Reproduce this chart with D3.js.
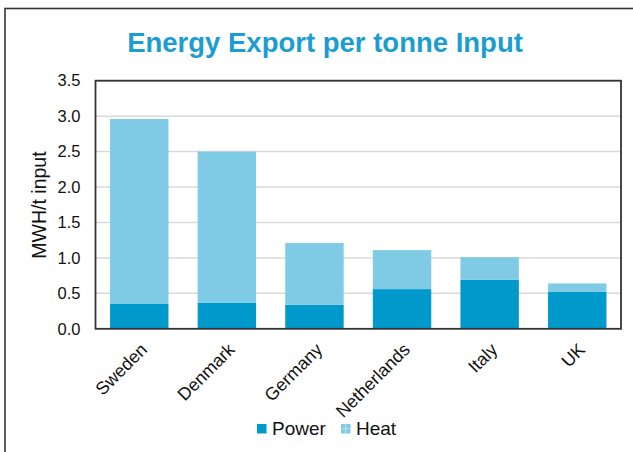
<!DOCTYPE html>
<html>
<head>
<meta charset="utf-8">
<script src="https://cdn.jsdelivr.net/npm/d3@7"></script>
<style>
  html, body { margin: 0; padding: 0; background: #fff; }
  svg { display: block; font-family: "Liberation Sans", Arial, sans-serif; }
</style>
</head>
<body>
<svg id="chart" width="633" height="452"></svg>
<script>
// Energy exported per tonne of waste input, split into power and heat
const countries = ["Sweden", "Denmark", "Germany", "Netherlands", "Italy", "UK"];
const power = [0.35, 0.37, 0.34, 0.56, 0.69, 0.52];
const heat = [2.61, 2.13, 0.87, 0.55, 0.32, 0.12];
const yTicks = [0, 0.5, 1.0, 1.5, 2.0, 2.5, 3.0, 3.5];
const seriesNames = ["Power", "Heat"];

const colors = { Power: "#0099cb", Heat: "#7fcbe5" };
const FONT = "Liberation Sans, Arial, sans-serif";

const svg = d3.select("#chart");

// outer chart frame (runs off the right and bottom edges)
svg.append("rect")
  .attr("x", 5).attr("y", 8.5)
  .attr("width", 700).attr("height", 500)
  .attr("fill", "none").attr("stroke", "#333").attr("stroke-width", 1.6);

const margin = { left: 95.5, right: 621, top: 80.7, bottom: 328.8 };

const x = d3.scaleBand()
  .domain(countries)
  .range([margin.left, margin.right])
  .paddingInner(0.333)
  .paddingOuter(0.166);

const y = d3.scaleLinear()
  .domain([0, 3.5])
  .range([margin.bottom, margin.top]);

// title
svg.append("text")
  .attr("x", 325).attr("y", 52)
  .attr("text-anchor", "middle")
  .attr("font-size", 27.5).attr("font-weight", "bold")
  .attr("fill", "#1b9dd0")
  .text("Energy Export per tonne Input");

// gridlines
svg.append("g")
  .selectAll("line")
  .data(yTicks.filter(d => d > 0))
  .join("line")
  .attr("x1", margin.left).attr("x2", margin.right)
  .attr("y1", d => y(d)).attr("y2", d => y(d))
  .attr("stroke", "#d9d9d9").attr("stroke-width", 1.5);

// stacked bars
const rows = countries.map((c, i) => ({ country: c, Power: power[i], Heat: heat[i] }));
const stacked = d3.stack().keys(seriesNames)(rows);

svg.append("g")
  .selectAll("g")
  .data(stacked)
  .join("g")
  .attr("fill", d => colors[d.key])
  .selectAll("rect")
  .data(d => d)
  .join("rect")
  .attr("x", d => x(d.data.country))
  .attr("width", x.bandwidth())
  .attr("y", d => y(d[1]))
  .attr("height", d => y(d[0]) - y(d[1]));

// plot area border
svg.append("rect")
  .attr("x", margin.left).attr("y", margin.top)
  .attr("width", margin.right - margin.left)
  .attr("height", margin.bottom - margin.top)
  .attr("fill", "none").attr("stroke", "#333").attr("stroke-width", 1.8);

// y axis
const yAxis = d3.axisLeft(y)
  .tickValues(yTicks)
  .tickFormat(d3.format(".1f"))
  .tickSize(0)
  .tickPadding(15);

svg.append("g")
  .attr("transform", `translate(${margin.left},0)`)
  .call(yAxis)
  .call(g => g.select(".domain").remove())
  .selectAll("text")
  .attr("font-size", 16.5)
  .attr("font-family", FONT)
  .attr("fill", "#111");

// y axis title
svg.append("text")
  .attr("transform", "translate(46,205) rotate(-90)")
  .attr("text-anchor", "middle")
  .attr("font-size", 19.5)
  .attr("font-family", FONT)
  .attr("fill", "#111")
  .text("MWH/t input");

// x axis labels, rotated
const xAxis = d3.axisBottom(x).tickSize(0).tickPadding(0);
svg.append("g")
  .attr("transform", `translate(0,${margin.bottom})`)
  .call(xAxis)
  .call(g => g.select(".domain").remove())
  .selectAll("text")
  .attr("font-size", 17.8)
  .attr("font-family", FONT)
  .attr("fill", "#111")
  .attr("text-anchor", "end")
  .attr("dy", "0")
  .attr("transform", "translate(9,22) rotate(-45)");

// legend
const legend = svg.append("g").attr("transform", "translate(257,424)");
const items = legend.selectAll("g")
  .data(seriesNames)
  .join("g")
  .attr("transform", (d, i) => `translate(${i * 84},0)`);
items.append("rect")
  .attr("width", 9.5).attr("height", 9.5)
  .attr("fill", d => colors[d]);
items.filter(d => d === "Heat").append("path")
  .attr("d", "M4.75,0V9.5M0,4.75H9.5")
  .attr("stroke", "#bfe5f2").attr("stroke-width", 1);
items.append("text")
  .attr("x", 15).attr("y", 10.5)
  .attr("font-size", 19)
  .attr("font-family", FONT)
  .attr("fill", "#111")
  .text(d => d);
</script>
</body>
</html>
